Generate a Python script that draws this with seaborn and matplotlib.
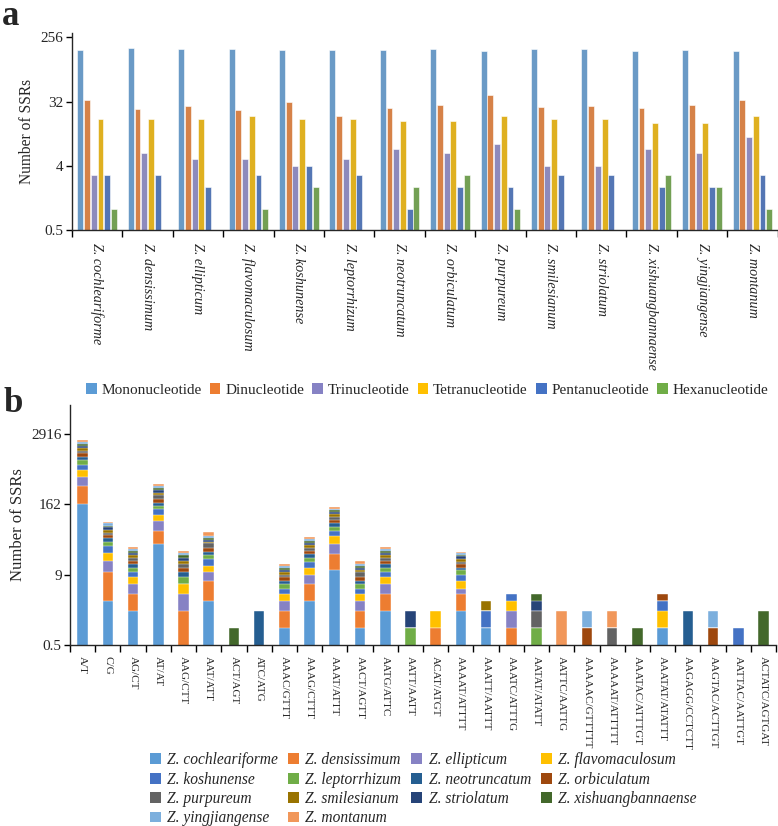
import numpy as np
import pandas as pd
import matplotlib
matplotlib.use("Agg")
import matplotlib.pyplot as plt
from matplotlib.patches import Patch
from matplotlib.ticker import FixedLocator, NullLocator
import seaborn as sns

# species in plot order
species = ["Z. cochleariforme", "Z. densissimum", "Z. ellipticum", "Z. flavomaculosum",
           "Z. koshunense", "Z. leptorrhizum", "Z. neotruncatum", "Z. orbiculatum",
           "Z. purpureum", "Z. smilesianum", "Z. striolatum", "Z. xishuangbannaense",
           "Z. yingjiangense", "Z. montanum"]

# panel a: SSR counts per repeat type
repeat_types = ["Mononucleotide", "Dinucleotide", "Trinucleotide", "Tetranucleotide",
                "Pentanucleotide", "Hexanucleotide"]
mono = [169, 183, 176, 174, 168, 172, 168, 176, 164, 174, 174, 164, 172, 164]
di = [34, 25, 28, 24, 32, 20, 26, 29, 40, 27, 28, 26, 29, 34]
tri = [3, 6, 5, 5, 4, 5, 7, 6, 8, 4, 4, 7, 6, 10]
tetra = [18, 18, 18, 20, 18, 18, 17, 17, 20, 18, 18, 16, 16, 20]
penta = [3, 3, 2, 3, 4, 3, 1, 2, 2, 3, 3, 2, 2, 3]
hexa = [1, 0, 0, 1, 2, 0, 2, 3, 1, 0, 0, 3, 2, 1]

# panel b: counts per motif (one value per species, same order as above)
motifs = ["A/T", "C/G", "AG/CT", "AT/AT", "AAG/CTT", "AAT/ATT", "ACT/AGT", "ATC/ATG",
          "AAAC/GTTT", "AAAG/CTTT", "AAAT/ATTT", "AACT/AGTT", "AATG/ATTC", "AATT/AATT",
          "ACAT/ATGT", "AAAAT/ATTTT", "AAATT/AATTT", "AAATC/ATTTG", "AATAT/ATATT",
          "AATTC/AATTG", "AAAAAC/GTTTTT", "AAAAAT/ATTTTT", "AAATAC/ATTTGT",
          "AAATAT/ATATTT", "AAGAGG/CCTCTT", "AAGTAC/ACTTGT", "AATTAC/AATTGT",
          "ACTATC/AGTGAT"]
motif_counts = [
    [166, 176, 170, 168, 161, 167, 162, 170, 159, 168, 168, 159, 166, 159],
    [3, 7, 6, 6, 7, 5, 6, 6, 5, 6, 6, 5, 6, 5],
    [2, 2, 2, 2, 2, 2, 2, 2, 2, 2, 2, 2, 2, 2],
    [32, 23, 26, 22, 30, 18, 24, 27, 38, 25, 26, 24, 27, 32],
    [0, 2, 2, 2, 0, 2, 2, 2, 2, 2, 2, 2, 2, 2],
    [3, 4, 3, 3, 4, 3, 3, 4, 6, 2, 2, 4, 4, 8],
    [0, 0, 0, 0, 0, 0, 0, 0, 0, 0, 0, 1, 0, 0],
    [0, 0, 0, 0, 0, 0, 2, 0, 0, 0, 0, 0, 0, 0],
    [1, 1, 1, 1, 1, 1, 1, 1, 1, 1, 1, 1, 1, 1],
    [3, 3, 3, 3, 3, 3, 3, 3, 3, 3, 3, 3, 3, 3],
    [11, 10, 11, 12, 11, 10, 10, 10, 12, 11, 10, 9, 9, 12],
    [1, 1, 1, 1, 1, 1, 1, 1, 2, 1, 1, 1, 1, 2],
    [2, 2, 2, 2, 2, 2, 2, 2, 2, 2, 2, 2, 2, 2],
    [0, 0, 0, 0, 0, 1, 0, 0, 0, 0, 1, 0, 0, 0],
    [0, 1, 0, 1, 0, 0, 0, 0, 0, 0, 0, 0, 0, 0],
    [2, 2, 1, 2, 2, 2, 1, 2, 1, 2, 2, 1, 2, 1],
    [1, 0, 0, 0, 1, 0, 0, 0, 0, 1, 0, 0, 0, 0],
    [0, 1, 1, 1, 1, 0, 0, 0, 0, 0, 0, 0, 0, 0],
    [0, 0, 0, 0, 0, 1, 0, 0, 1, 0, 1, 1, 0, 0],
    [0, 0, 0, 0, 0, 0, 0, 0, 0, 0, 0, 0, 0, 2],
    [0, 0, 0, 0, 0, 0, 0, 1, 0, 0, 0, 0, 1, 0],
    [0, 0, 0, 0, 0, 0, 0, 0, 1, 0, 0, 0, 0, 1],
    [0, 0, 0, 0, 0, 0, 0, 0, 0, 0, 0, 1, 0, 0],
    [1, 0, 0, 1, 1, 0, 0, 1, 0, 0, 0, 0, 0, 0],
    [0, 0, 0, 0, 0, 0, 2, 0, 0, 0, 0, 0, 0, 0],
    [0, 0, 0, 0, 0, 0, 0, 1, 0, 0, 0, 0, 1, 0],
    [0, 0, 0, 0, 1, 0, 0, 0, 0, 0, 0, 0, 0, 0],
    [0, 0, 0, 0, 0, 0, 0, 0, 0, 0, 0, 2, 0, 0],
]

type_colors = ["#5B9BD5", "#ED7D31", "#8682C4", "#FFC000", "#4472C4", "#70AD47"]
species_colors = ["#5B9BD5", "#ED7D31", "#8682C4", "#FFC000", "#4472C4", "#70AD47",
                  "#255E91", "#9E480E", "#636363", "#997300", "#264478", "#43682B",
                  "#7CAFDD", "#F1975A"]

sns.set_theme(style="ticks")
plt.rcParams["font.family"] = ["Liberation Serif", "DejaVu Serif"]
plt.rcParams["axes.linewidth"] = 1.0

fig = plt.figure(figsize=(7.78, 8.26), dpi=100)
axa = fig.add_axes([0.0925, 0.7215, 0.907, 0.2385])
axb = fig.add_axes([0.09, 0.2195, 0.9075, 0.290])

# ---- panel a ----
rows = []
for t, vals in zip(repeat_types, [mono, di, tri, tetra, penta, hexa]):
    for s, v in zip(species, vals):
        rows.append({"species": s, "type": t, "count": v})
df_a = pd.DataFrame(rows)

sns.barplot(data=df_a, x="species", y="count", hue="type", order=species,
            hue_order=repeat_types, palette=type_colors, errorbar=None,
            width=0.8, gap=0.12, edgecolor="white", linewidth=0.4,
            legend=False, ax=axa)
axa.set_yscale("log", base=2)
axa.set_ylim(0.5, 294)
axa.yaxis.set_major_locator(FixedLocator([0.5, 4, 32, 256]))
axa.yaxis.set_minor_locator(NullLocator())
axa.set_yticklabels(["0.5", "4", "32", "256"], fontsize=11)
axa.set_xlim(-0.5, len(species) - 0.5)
axa.set_xticks(range(len(species)))
axa.set_xticklabels(species, rotation=270, style="italic", fontsize=10.2,
                    ha="center", va="top")
axa.set_xticks(np.arange(-0.5, len(species)), minor=True)
axa.tick_params(axis="x", which="major", length=0, pad=9)
axa.tick_params(axis="x", which="minor", length=5, width=1, color="black")
axa.tick_params(axis="y", length=4, width=1, color="black", pad=2)
axa.set_xlabel("")
axa.set_ylabel("Number of SSRs", fontsize=11.2)
sns.despine(ax=axa)

# legend for repeat types sits between the panels
type_handles = [Patch(facecolor=c, edgecolor="none") for c in type_colors]
fig.legend(type_handles, repeat_types, ncol=6, loc="center",
           bbox_to_anchor=(0.549, 1 - 390 / 826), frameon=False, fontsize=11,
           handlelength=0.7, handleheight=0.7, handletextpad=0.3,
           columnspacing=0.55, borderaxespad=0)

# ---- panel b: stacked bars (cumulative layers drawn from top down) ----
counts = np.array(motif_counts)
cum = np.cumsum(counts, axis=1)
for i in range(len(species) - 1, -1, -1):
    layer = pd.DataFrame({"motif": motifs, "total": cum[:, i]})
    sns.barplot(data=layer, x="motif", y="total", order=motifs,
                color=species_colors[i], saturation=1, width=0.42,
                edgecolor="white", linewidth=0.3, errorbar=None, ax=axb)
axb.set_yscale("log")
axb.set_ylim(0.5, 2916 * 18 ** 0.417)
axb.yaxis.set_major_locator(FixedLocator([0.5, 9, 162, 2916]))
axb.yaxis.set_minor_locator(NullLocator())
axb.set_yticklabels(["0.5", "9", "162", "2916"], fontsize=11)
axb.set_xlim(-0.5, len(motifs) - 0.5)
axb.set_xticks(range(len(motifs)))
axb.set_xticklabels(motifs, rotation=270, fontsize=8, ha="center", va="top")
axb.set_xticks(np.arange(-0.5, len(motifs)), minor=True)
axb.tick_params(axis="x", which="major", length=0, pad=8)
axb.tick_params(axis="x", which="minor", length=5, width=1, color="black")
axb.tick_params(axis="y", length=4, width=1, color="black", pad=2)
axb.set_xlabel("")
axb.set_ylabel("Number of SSRs", fontsize=12)
sns.despine(ax=axb)

# species legend, filled row by row in 4 columns
order = [0, 4, 8, 12, 1, 5, 9, 13, 2, 6, 10, 3, 7, 11]
sp_handles = [Patch(facecolor=species_colors[k], edgecolor="none") for k in order]
fig.legend(sp_handles, [species[k] for k in order], ncol=4, loc="upper left",
           bbox_to_anchor=(0.185, 1 - 746 / 826), frameon=False,
           prop={"family": "Liberation Serif", "style": "italic", "size": 11.2},
           handlelength=0.7, handleheight=0.7, handletextpad=0.4,
           columnspacing=0.65, labelspacing=0.22, borderaxespad=0)

fig.text(0.002, 1 - 25 / 826, "a", fontsize=25, fontweight="bold", va="baseline")
fig.text(0.004, 1 - 412 / 826, "b", fontsize=25, fontweight="bold", va="baseline")

fig.savefig("out.png", dpi=100)
